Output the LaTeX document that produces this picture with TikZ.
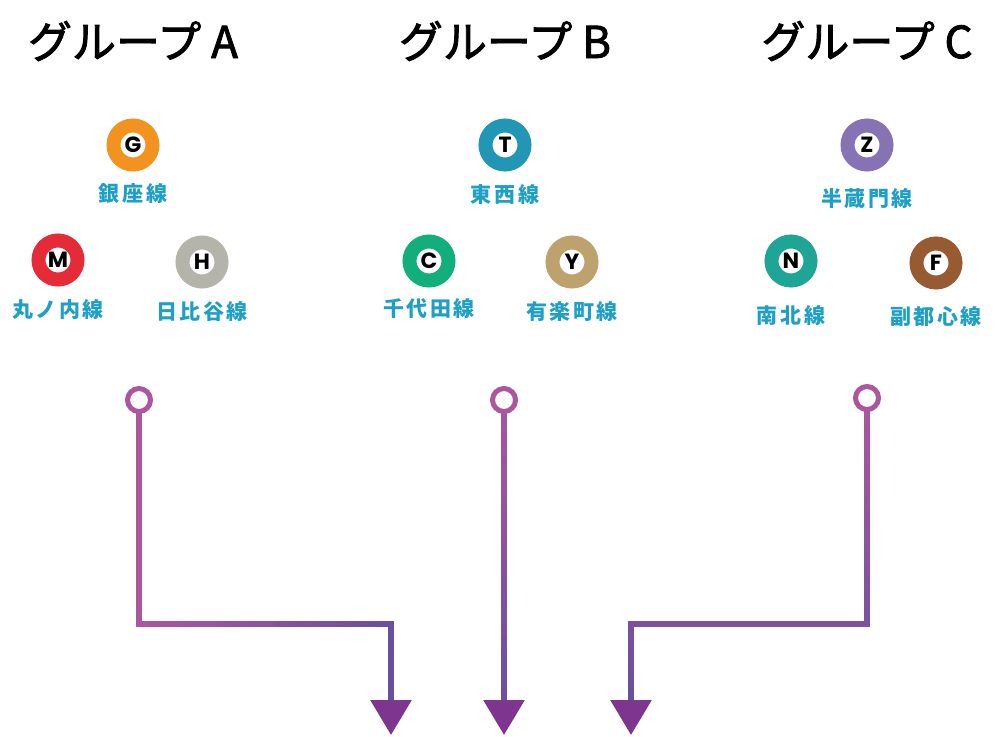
\documentclass[tikz,border=0pt]{standalone}
\usepackage{fontspec}
\newfontfamily\cjkfont{Noto Sans CJK JP}
\newfontfamily\titlefont{Noto Sans CJK JP}[FakeBold=2]
\newfontfamily\badgefont{Poppins}
\usetikzlibrary{calc,arrows.meta,positioning}

\definecolor{ginza}{HTML}{F29320}
\definecolor{marunouchi}{HTML}{E52A38}
\definecolor{hibiya}{HTML}{B4B4AB}
\definecolor{tozai}{HTML}{2196B5}
\definecolor{chiyoda}{HTML}{12AE7C}
\definecolor{yurakucho}{HTML}{BEA26D}
\definecolor{hanzomon}{HTML}{8673B3}
\definecolor{namboku}{HTML}{1EA595}
\definecolor{fukutoshin}{HTML}{965B31}
\definecolor{labelblue}{HTML}{1E9FC5}
\definecolor{wirepink}{HTML}{AD56A0}
\definecolor{wireblue}{HTML}{6A4F9E}
\definecolor{tipviolet}{HTML}{7D358F}

\tikzset{
  station/.style={circle,draw=#1,line width=14pt,fill=white,
    minimum size=39pt,inner sep=0pt,
    font=\badgefont\bfseries\fontsize{22}{22}\selectfont},
  linename/.style={inner sep=0pt,text height=15pt,text depth=0pt,
    text=labelblue,
    font=\cjkfont\bfseries\fontsize{21}{21}\selectfont\addfontfeature{LetterSpace=12}},
  grouptitle/.style={anchor=base,inner sep=0pt,
    font=\titlefont\fontsize{44}{44}\selectfont},
  startring/.style={circle,draw=wirepink,line width=5pt,fill=white,
    minimum size=23pt,inner sep=0pt},
  wire/.style={line width=6pt,line cap=rect},
  headtip/.style={line width=6pt,
    -{Triangle[width=40pt,length=35pt,color=tipviolet]}}
}

% #1,#2 end points, #3,#4 share of pink at both ends
\newcommand\gradwire[4]{%
  \foreach \k in {0,...,19}{%
    \pgfmathsetmacro\mixa{#3+(#4-#3)*(\k+0.5)/20}%
    \pgfmathsetmacro\fa{\k/20}%
    \pgfmathsetmacro\fb{(\k+1)/20}%
    \draw[wire,color=wirepink!\mixa!wireblue]
      ($(#1)!\fa!(#2)$) -- ($(#1)!\fb!(#2)$);
  }}

\begin{document}
\begin{tikzpicture}[x=1pt,y=-1pt]
\useasboundingbox (0,0) rectangle (1000,736);

% group titles
\node[grouptitle] (titleA) at (133,58) {グループ A};
\node[grouptitle] (titleB) at (505,58) {グループ B};
\node[grouptitle] (titleC) at (867,58) {グループ C};

% group A
\node[station=ginza] (G) at (133,145) {G};
\node[linename,below=15pt of G] (Glbl) {銀座線};
\node[station=marunouchi] (M) at (58,260) {M};
\node[linename,below=16pt of M] (Mlbl) {丸ノ内線};
\node[station=hibiya] (H) at (202,262) {H};
\node[linename,below=16pt of H] (Hlbl) {日比谷線};

% group B
\node[station=tozai] (T) at (505,145) {T};
\node[linename,below=16pt of T] (Tlbl) {東西線};
\node[station=chiyoda] (C) at (429,261) {C};
\node[linename,below=14pt of C] (Clbl) {千代田線};
\node[station=yurakucho] (Y) at (572,262) {Y};
\node[linename,below=16pt of Y] (Ylbl) {有楽町線};

% group C
\node[station=hanzomon] (Z) at (867,145) {Z};
\node[linename,below=20pt of Z] (Zlbl) {半蔵門線};
\node[station=namboku] (N) at (791,261) {N};
\node[linename,below=21pt of N] (Nlbl) {南北線};
\node[station=fukutoshin] (F) at (936,263) {F};
\node[linename,below=20pt of F] (Flbl) {副都心線};

% connectors
\coordinate (kA1) at (139,624);
\coordinate (kA2) at (391,624);
\coordinate (aA) at (391,700);
\coordinate (tA) at (391,735);
\coordinate (sA) at (139,400);
\coordinate (sB) at (504,400);
\coordinate (aB) at (504,700);
\coordinate (tB) at (504,735);
\coordinate (sC) at (867,398);
\coordinate (kC1) at (867,624);
\coordinate (kC2) at (631,624);
\coordinate (aC) at (631,700);
\coordinate (tC) at (631,735);

\gradwire{sA}{kA1}{100}{100}
\gradwire{kA1}{kA2}{100}{0}
\gradwire{kA2}{aA}{0}{0}
\draw[headtip] (aA) -- (tA);

\gradwire{sB}{aB}{100}{0}
\draw[headtip] (aB) -- (tB);

\gradwire{sC}{kC1}{100}{28}
\gradwire{kC1}{kC2}{28}{28}
\gradwire{kC2}{aC}{28}{0}
\draw[headtip] (aC) -- (tC);

\node[startring] (ringA) at (sA) {};
\node[startring] (ringB) at (sB) {};
\node[startring] (ringC) at (sC) {};
\end{tikzpicture}
\end{document}
